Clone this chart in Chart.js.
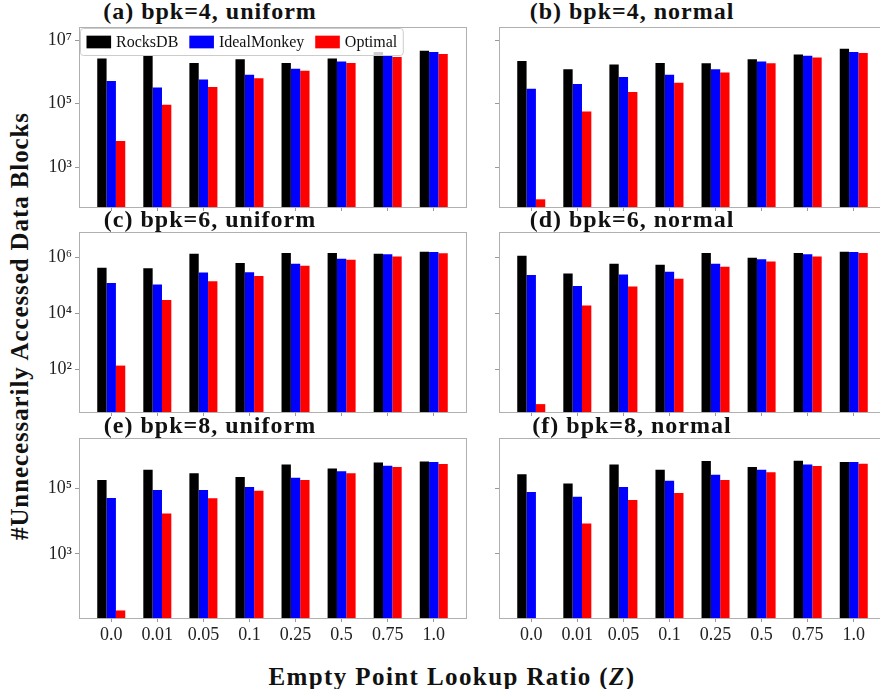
<!DOCTYPE html>
<html>
<head>
<meta charset="utf-8">
<script src="https://cdn.jsdelivr.net/npm/chart.js@4.4.1/dist/chart.umd.min.js"></script>
<style>
  html, body { margin: 0; padding: 0; background: #fff; }
  #fig { position: relative; width: 880px; height: 689px; overflow: hidden; background: #fff; }
  #fig canvas { position: absolute; }
  .txt { position: absolute; font-family: "Liberation Serif", serif; font-weight: bold; color: #111;
         white-space: nowrap; line-height: 1; transform: translate(-50%, -50%); }
  .ptitle { font-size: 24px; letter-spacing: 1px; }
  #xtitle { font-size: 25px; letter-spacing: 1.4px; }
  #ytitle { font-size: 25px; letter-spacing: 0.9px; transform: translate(-50%, -50%) rotate(-90deg); }
</style>
</head>
<body>
<div id="fig">
  <div class="txt" id="ytitle">#Unnecessarily Accessed Data Blocks</div>
  <div class="txt" id="xtitle">Empty Point Lookup Ratio (<i>Z</i>)</div>
</div>
<script>
// Empty point lookup ratios on the x axis
const zLabels = ['0.0', '0.01', '0.05', '0.1', '0.25', '0.5', '0.75', '1.0'];
const seriesNames = ['RocksDB', 'IdealMonkey', 'Optimal'];

// (a) bpk=4, uniform
const rocksA = [2.6e6, 3.2e6, 1.9e6, 2.5e6, 1.9e6, 2.6e6, 4.2e6, 4.6e6];
const idealA = [5.1e5, 3.2e5, 5.7e5, 8.1e5, 1.25e6, 2.1e6, 3.3e6, 4.2e6];
const optA   = [6.6e3, 9.1e4, 3.3e5, 6.2e5, 1.07e6, 1.9e6, 2.9e6, 3.6e6];
// (b) bpk=4, normal
const rocksB = [2.2e6, 1.2e6, 1.7e6, 1.9e6, 1.85e6, 2.5e6, 3.5e6, 5.3e6];
const idealB = [2.9e5, 4.1e5, 6.8e5, 8.1e5, 1.2e6, 2.1e6, 3.2e6, 4.2e6];
const optB   = [96, 5.6e4, 2.3e5, 4.5e5, 9.5e5, 1.85e6, 2.8e6, 3.9e6];
// (c) bpk=6, uniform
const rocksC = [4.2e5, 4.0e5, 1.3e6, 6.1e5, 1.4e6, 1.4e6, 1.3e6, 1.55e6];
const idealC = [1.2e5, 1.05e5, 2.8e5, 2.9e5, 5.8e5, 8.7e5, 1.25e6, 1.5e6];
const optC   = [140, 3.0e4, 1.37e5, 2.1e5, 4.9e5, 8.0e5, 1.05e6, 1.35e6];
// (d) bpk=6, normal
const rocksD = [1.1e6, 2.6e5, 5.8e5, 5.3e5, 1.4e6, 9.5e5, 1.4e6, 1.55e6];
const idealD = [2.3e5, 9.3e4, 2.4e5, 3.0e5, 5.8e5, 8.3e5, 1.25e6, 1.5e6];
const optD   = [6, 1.9e4, 8.9e4, 1.7e5, 4.5e5, 7.0e5, 1.05e6, 1.4e6];
// (e) bpk=8, uniform
const rocksE = [1.8e5, 3.7e5, 2.9e5, 2.2e5, 5.3e5, 4.0e5, 6.1e5, 6.6e5];
const idealE = [5.1e4, 8.9e4, 8.9e4, 1.1e5, 2.1e5, 3.3e5, 4.9e5, 6.3e5];
const optE   = [19, 1.7e4, 5.0e4, 8.5e4, 1.8e5, 2.9e5, 4.5e5, 5.5e5];
// (f) bpk=8, normal
const rocksF = [2.7e5, 1.4e5, 5.3e5, 3.7e5, 6.8e5, 4.5e5, 6.9e5, 6.4e5];
const idealF = [7.7e4, 5.5e4, 1.1e5, 1.7e5, 2.6e5, 3.7e5, 5.3e5, 6.3e5];
const optF   = [null, 8.5e3, 4.4e4, 7.2e4, 1.8e5, 3.1e5, 4.8e5, 5.6e5];

// Shared y axis of each row: limits, tick values and tick labels
const yMinRows = [55, 3.15, 11.2];
const yMaxRows = [2.57e7, 7.73e6, 3.42e6];
const yTicksRow1 = [1e3, 1e5, 1e7];
const yTicksRow2 = [1e2, 1e4, 1e6];
const yTicksRow3 = [1e3, 1e5];
const yLabelsRow1 = ['10³', '10⁵', '10⁷'];
const yLabelsRow2 = ['10²', '10⁴', '10⁶'];
const yLabelsRow3 = ['10³', '10⁵'];
const yTicksRows = [yTicksRow1, yTicksRow2, yTicksRow3];
const yLabelsRows = [yLabelsRow1, yLabelsRow2, yLabelsRow3];

const panelTitles = ['(a) bpk=4, uniform', '(b) bpk=4, normal', '(c) bpk=6, uniform',
                     '(d) bpk=6, normal', '(e) bpk=8, uniform', '(f) bpk=8, normal'];
const panelSeries = [[rocksA, idealA, optA], [rocksB, idealB, optB], [rocksC, idealC, optC],
                     [rocksD, idealD, optD], [rocksE, idealE, optE], [rocksF, idealF, optF]];

// Layout of the 3x2 grid (pixels)
const COL_LEFT = [79, 499];
const ROW_TOP = [27, 232, 438];
const PLOT_W = 387, PLOT_H = 180;
const Y_AXIS_W = 76, X_AXIS_H = 40, PAD = 5;
const TITLE_CX = [210, 632];
const TITLE_CY = [11, 219, 425];
const BAR_COLORS = ['#000000', '#0000ff', '#ff0000'];
const TICK_FONT = { family: '"Liberation Serif", serif', size: 18 };

const fig = document.getElementById('fig');
const yt = document.getElementById('ytitle');
yt.style.left = '19px'; yt.style.top = '326px';
const xt = document.getElementById('xtitle');
xt.style.left = '452px'; xt.style.top = '676px';

// Keep the plot area exactly where the layout puts it
function zeroPadding(s) {
  s.paddingTop = 0; s.paddingBottom = 0; s.paddingLeft = 0; s.paddingRight = 0;
}

// Grey axes frame plus the in-axes legend of the first panel
const framePlugin = {
  id: 'frame',
  afterDatasetsDraw(chart, args, opts) {
    const { ctx, chartArea: a } = chart;
    ctx.save();
    ctx.strokeStyle = '#b0b0b0';
    ctx.lineWidth = 1;
    ctx.strokeRect(Math.round(a.left) + 0.5, Math.round(a.top) + 0.5,
                   Math.round(a.right - a.left), Math.round(a.bottom - a.top));
    if (opts.legend) {
      ctx.font = '16px "Liberation Serif", serif';
      const sets = chart.data.datasets;
      const padX = 6, patchW = 24.6, patchH = 12.7, gapText = 5, gapItem = 11, boxH = 27;
      const widths = sets.map(d => ctx.measureText(d.label).width);
      const boxW = padX * 2 + widths.reduce((s, w) => s + patchW + gapText + w, 0) + gapItem * (sets.length - 1);
      const x0 = a.left + 1.5, y0 = a.top + 1.5;
      ctx.beginPath();
      ctx.roundRect(x0, y0, boxW, boxH, 3);
      ctx.fillStyle = 'rgba(255,255,255,0.8)';
      ctx.fill();
      ctx.strokeStyle = '#cccccc';
      ctx.stroke();
      let x = x0 + padX;
      const cy = y0 + boxH / 2;
      ctx.textBaseline = 'middle';
      ctx.textAlign = 'left';
      sets.forEach((d, i) => {
        ctx.fillStyle = d.backgroundColor;
        ctx.fillRect(x, cy - patchH / 2, patchW, patchH);
        ctx.fillStyle = '#111';
        ctx.fillText(d.label, x + patchW + gapText, cy + 1);
        x += patchW + gapText + widths[i] + gapItem;
      });
    }
    ctx.restore();
  }
};

panelTitles.forEach((title, p) => {
  const row = Math.floor(p / 2), col = p % 2;
  const t = document.createElement('div');
  t.className = 'txt ptitle';
  t.textContent = title;
  t.style.left = TITLE_CX[col] + 'px';
  t.style.top = TITLE_CY[row] + 'px';
  fig.appendChild(t);

  const cv = document.createElement('canvas');
  const w = Y_AXIS_W + PLOT_W + PAD, h = PAD + PLOT_H + X_AXIS_H;
  cv.width = w; cv.height = h;
  cv.style.width = w + 'px'; cv.style.height = h + 'px';
  cv.style.left = (COL_LEFT[col] - Y_AXIS_W) + 'px';
  cv.style.top = (ROW_TOP[row] - PAD) + 'px';
  fig.appendChild(cv);

  const datasets = panelSeries[p].map((vals, s) => ({
    label: seriesNames[s],
    data: vals.map((v, i) => ({ x: i, y: v })),
    backgroundColor: BAR_COLORS[s],
    borderWidth: 0,
    categoryPercentage: 0.608,
    barPercentage: 1.0
  }));

  new Chart(cv, {
    type: 'bar',
    data: { datasets },
    plugins: [framePlugin],
    options: {
      responsive: false,
      animation: false,
      devicePixelRatio: 1,
      layout: { padding: { top: PAD, right: PAD, left: 0, bottom: 0 } },
      plugins: {
        legend: { display: false },
        tooltip: { enabled: false },
        frame: { legend: p === 0 }
      },
      scales: {
        x: {
          type: 'linear', min: -0.7, max: 7.7, offset: false,
          afterBuildTicks: s => { s.ticks = zLabels.map((_, i) => ({ value: i })); },
          afterFit: s => { s.height = X_AXIS_H; zeroPadding(s); },
          grid: { drawOnChartArea: false, drawTicks: true, tickLength: 4, color: '#9a9a9a', offset: false },
          border: { display: false },
          ticks: {
            autoSkip: false, maxRotation: 0, minRotation: 0, padding: 2, color: '#222', font: TICK_FONT,
            callback: (v) => row === 2 ? zLabels[v] : ''
          }
        },
        y: {
          type: 'logarithmic', min: yMinRows[row], max: yMaxRows[row],
          afterBuildTicks: s => { s.ticks = yTicksRows[row].map(v => ({ value: v })); },
          afterFit: s => { s.width = Y_AXIS_W; zeroPadding(s); },
          grid: { drawOnChartArea: false, drawTicks: true, tickLength: 4, color: '#9a9a9a' },
          border: { display: false },
          ticks: {
            padding: 3, color: '#222', font: TICK_FONT,
            callback: (v, i) => col === 0 ? yLabelsRows[row][i] : ''
          }
        }
      }
    }
  });
});
</script>
</body>
</html>
